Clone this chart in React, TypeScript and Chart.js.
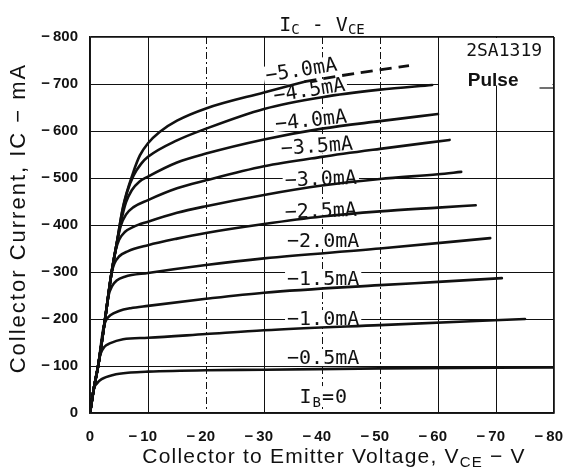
import React, { useEffect, useRef } from "react";
import { Chart, registerables } from "chart.js";

Chart.register(...registerables);

// ---------- axis ticks ----------
const X_TICKS = [0, -10, -20, -30, -40, -50, -60, -70, -80];
const Y_TICKS = [0, -100, -200, -300, -400, -500, -600, -700, -800];
const X_DASHED = [-20, -40, -50];

// ---------- curves: VCE (V) and IC (mA) for each base current ----------
const VCE_IB0 = [0, -80];
const IC_IB0 = [0, 0];

const VCE_05 = [0, -0.4, -0.7, -1.2, -2, -4, -7, -10, -20, -30, -50, -80];
const IC_05 = [0, -30, -52, -63, -72, -81, -86, -88, -91, -92, -95, -97];

const VCE_10 = [0, -0.7, -1.4, -1.8, -2.5, -3.4, -5.7, -10, -20, -30, -50, -75];
const IC_10 = [0, -55, -100, -125, -141, -148, -157, -160, -168, -176, -187, -200];

const VCE_15 = [0, -0.7, -1.4, -2.3, -2.8, -3.5, -5, -7, -10, -20, -30, -50, -60, -71];
const IC_15 = [0, -55, -100, -180, -198, -208, -217, -223, -228, -243, -256, -272, -279, -287];

const VCE_20 = [0, -0.7, -1.4, -2.6, -3.2, -3.8, -4.6, -6, -10, -20, -30, -50, -69];
const IC_20 = [0, -55, -100, -200, -250, -270, -282, -290, -298, -315, -329, -350, -372];

const VCE_25 = [0, -0.7, -1.4, -2.6, -3.7, -4.2, -5, -6.5, -10, -15, -20, -30, -40, -50, -60, -66.5];
const IC_25 = [0, -55, -100, -200, -297, -318, -333, -344, -357, -371, -383, -402, -418, -429, -437, -442];

const VCE_30 = [0, -0.7, -1.4, -2.6, -3.7, -4.4, -5, -6, -7.5, -10, -15, -20, -30, -40, -50, -60, -64];
const IC_30 = [0, -55, -100, -200, -297, -345, -368, -385, -396, -407, -426, -440, -464, -484, -498, -508, -513];

const VCE_35 = [0, -0.7, -1.4, -2.6, -3.7, -4.6, -5.3, -6.2, -7.5, -10, -15, -20, -30, -40, -50, -62];
const IC_35 = [0, -55, -100, -200, -297, -360, -398, -422, -438, -453, -478, -495, -525, -545, -562, -581];

const VCE_40 = [0, -0.7, -1.4, -2.6, -3.7, -4.6, -5.4, -6.2, -7.2, -8.5, -10, -15, -20, -30, -40, -50, -60];
const IC_40 = [0, -55, -100, -200, -297, -360, -410, -448, -474, -492, -503, -533, -552, -582, -605, -621, -636];

const VCE_45 = [0, -0.7, -1.4, -2.6, -3.7, -4.6, -5.5, -6.4, -7.5, -8.8, -10, -15, -20, -30, -40, -50, -59];
const IC_45 = [0, -55, -100, -200, -297, -360, -425, -470, -505, -530, -545, -580, -605, -647, -672, -688, -698];

const VCE_50 = [0, -0.7, -1.4, -2.6, -3.7, -4.6, -5.7, -7.4, -8.6, -10, -12, -15, -20, -30, -37];
const IC_50 = [0, -55, -100, -200, -297, -360, -439, -510, -548, -574, -598, -622, -648, -682, -705];

const VCE_50_EXT = [-37, -46, -55];
const IC_50_EXT = [-705, -723, -739];

const IB_LABELS = ["−0.5mA", "−1.0mA", "−1.5mA", "−2.0mA", "−2.5mA", "−3.0mA", "−3.5mA", "−4.0mA", "−4.5mA", "−5.0mA"];

// ---------- annotation placement (data coordinates) ----------
const LABEL_AT_V = [-40.2, -40.2, -40.2, -40.2, -39.8, -39.8, -39.1, -38.1, -37.8, -36.4];
const LABEL_AT_I = [-117, -200, -285, -366, -430, -498, -568, -623, -687, -730];
const LABEL_ROT = [0, 0, 0, 0, -2, -2, -4, -6, -9, -9];

const SERIES = [
  { v: VCE_IB0, i: IC_IB0, w: 2 },
  { v: VCE_05, i: IC_05, w: 2.6 },
  { v: VCE_10, i: IC_10, w: 2.6 },
  { v: VCE_15, i: IC_15, w: 2.6 },
  { v: VCE_20, i: IC_20, w: 2.6 },
  { v: VCE_25, i: IC_25, w: 2.6 },
  { v: VCE_30, i: IC_30, w: 2.6 },
  { v: VCE_35, i: IC_35, w: 2.6 },
  { v: VCE_40, i: IC_40, w: 2.6 },
  { v: VCE_45, i: IC_45, w: 2.6 },
  { v: VCE_50, i: IC_50, w: 2.6 },
];

const INK = "#111";
const MONO = "'DejaVu Sans Mono', monospace";
const SANS = "'Liberation Sans', Arial, sans-serif";

type Run = { t: string; font: string; dy?: number };

function drawRuns(ctx: CanvasRenderingContext2D, runs: Run[], cx: number, y: number, spacing = 0) {
  (ctx as any).letterSpacing = spacing + "px";
  let total = 0;
  const widths = runs.map((r) => {
    ctx.font = r.font;
    const w = ctx.measureText(r.t).width;
    total += w;
    return w;
  });
  let x = cx - total / 2;
  ctx.textAlign = "left";
  ctx.textBaseline = "alphabetic";
  runs.forEach((r, k) => {
    ctx.font = r.font;
    ctx.fillText(r.t, x, y + (r.dy || 0));
    x += widths[k];
  });
  (ctx as any).letterSpacing = "0px";
}

const annotationPlugin = {
  id: "annotations",
  beforeDraw(chart: any) {
    const { ctx, width, height } = chart;
    ctx.save();
    ctx.fillStyle = "#fff";
    ctx.fillRect(0, 0, width, height);
    ctx.restore();
  },
  beforeDatasetsDraw(chart: any) {
    const { ctx, chartArea: ca, scales } = chart;
    const xs = scales.x;
    const ys = scales.y;
    ctx.save();
    // model box in the upper-right corner
    const bx0 = xs.getPixelForValue(-60) + 1;
    const by1 = ys.getPixelForValue(-700) + 1.5;
    ctx.fillStyle = "#fff";
    ctx.fillRect(bx0, ca.top + 1, ca.right - 1.5 - bx0, by1 - ca.top - 1);
    ctx.strokeStyle = INK;
    ctx.lineWidth = 1.2;
    ctx.beginPath();
    const ly = ys.getPixelForValue(-700) + 4;
    ctx.moveTo(xs.getPixelForValue(-77.5), ly);
    ctx.lineTo(ca.right, ly);
    ctx.stroke();

    ctx.fillStyle = INK;
    drawRuns(ctx, [{ t: "2SA1319", font: `18px ${MONO}` }], xs.getPixelForValue(-71.4), ys.getPixelForValue(-774) + 7);
    drawRuns(ctx, [{ t: "Pulse", font: `bold 19px ${SANS}` }], xs.getPixelForValue(-69.5), ys.getPixelForValue(-710) + 7);

    // curve labels
    IB_LABELS.forEach((t, k) => {
      const px = xs.getPixelForValue(LABEL_AT_V[k]);
      const py = ys.getPixelForValue(LABEL_AT_I[k]);
      ctx.save();
      ctx.translate(px, py);
      ctx.rotate((LABEL_ROT[k] * Math.PI) / 180);
      ctx.font = `20px ${MONO}`;
      const w = ctx.measureText(t).width;
      ctx.fillStyle = "#fff";
      ctx.fillRect(-w / 2 - 2, -9, w + 4, 17);
      ctx.fillStyle = INK;
      ctx.textAlign = "center";
      ctx.textBaseline = "middle";
      ctx.fillText(t, 0, 1);
      ctx.restore();
    });

    // I_B = 0 label
    const zx = xs.getPixelForValue(-40.3);
    const zy = ys.getPixelForValue(-36);
    ctx.font = `20px ${MONO}`;
    const zw = ctx.measureText("I =0").width;
    ctx.fillStyle = "#fff";
    ctx.fillRect(zx - zw / 2 - 2, zy - 10, zw + 4, 20);
    ctx.fillStyle = INK;
    drawRuns(
      ctx,
      [
        { t: "I", font: `20px ${MONO}` },
        { t: "B", font: `14px ${MONO}`, dy: 4 },
        { t: "=0", font: `20px ${MONO}` },
      ],
      zx,
      zy + 7,
      1
    );
    ctx.restore();
  },
  afterDraw(chart: any) {
    const { ctx, chartArea: ca } = chart;
    ctx.save();
    ctx.fillStyle = INK;
    // chart title  I_C - V_CE
    drawRuns(
      ctx,
      [
        { t: "I", font: `20px ${MONO}` },
        { t: "C", font: `14px ${MONO}`, dy: 3 },
        { t: " - V", font: `20px ${MONO}` },
        { t: "CE", font: `14px ${MONO}`, dy: 3 },
      ],
      (ca.left + ca.right) / 2,
      31
    );
    // x axis title
    drawRuns(
      ctx,
      [
        { t: "Collector to Emitter Voltage, V", font: `21px ${SANS}` },
        { t: "CE", font: `15px ${SANS}`, dy: 4 },
        { t: " − V", font: `21px ${SANS}` },
      ],
      334,
      463,
      1.2
    );
    // y axis title
    ctx.save();
    ctx.translate(25, 218);
    ctx.rotate(-Math.PI / 2);
    drawRuns(ctx, [{ t: "Collector Current, IC − mA", font: `22px ${SANS}` }], 0, 0, 2);
    ctx.restore();
    ctx.restore();
  },
};

function fmtX(v: number) {
  return v === 0 ? "0" : "−\u2009" + Math.abs(v) + "\u2002\u2009";
}
function fmtY(v: number) {
  return v === 0 ? "0" : "−\u2009" + Math.abs(v);
}

export default function App() {
  const ref = useRef<HTMLCanvasElement>(null);
  useEffect(() => {
    const datasets: any[] = SERIES.map((s) => ({
      data: s.v.map((v, k) => ({ x: v, y: s.i[k] })),
      borderColor: INK,
      borderWidth: s.w,
      pointRadius: 0,
      cubicInterpolationMode: "monotone",
      borderJoinStyle: "round",
      borderCapStyle: "round",
      fill: false,
    }));
    datasets.push({
      data: VCE_50_EXT.map((v, k) => ({ x: v, y: IC_50_EXT[k] })),
      borderColor: INK,
      borderWidth: 2.8,
      borderDash: [12, 7],
      pointRadius: 0,
      tension: 0.3,
      fill: false,
    });

    const edge = (ctx: any, lo: number, hi: number) => {
      const v = ctx.tick ? ctx.tick.value : null;
      return v === lo || v === hi;
    };

    const chart = new Chart(ref.current as HTMLCanvasElement, {
      type: "line",
      data: { datasets },
      plugins: [annotationPlugin as any],
      options: {
        responsive: false,
        animation: false,
        events: [],
        layout: { padding: { top: 37, right: 14, left: 0, bottom: 0 } },
        plugins: { legend: { display: false }, tooltip: { enabled: false }, title: { display: false } },
        scales: {
          x: {
            type: "linear",
            min: -80,
            max: 0,
            reverse: true,
            afterBuildTicks: (s: any) => {
              s.ticks = X_TICKS.map((v) => ({ value: v }));
            },
            afterFit: (s: any) => {
              s.height = 57;
              s.paddingLeft = 0;
              s.paddingRight = 0;
            },
            grid: {
              color: INK,
              lineWidth: (c: any) => (edge(c, 0, -80) ? 1.8 : 1),
              drawTicks: false,
            },
            border: {
              color: INK,
              width: 1.8,
              dash: (c: any) => (c.tick && X_DASHED.includes(c.tick.value) ? [7, 3, 2, 3] : []),
            },
            ticks: {
              padding: 15,
              color: INK,
              maxRotation: 0,
              autoSkip: false,
              font: { family: "'Liberation Sans', Arial, sans-serif", size: 15, weight: "bold" },
              callback: (v: any) => fmtX(Number(v)),
            },
          },
          y: {
            type: "linear",
            min: -800,
            max: 0,
            reverse: true,
            afterBuildTicks: (s: any) => {
              s.ticks = Y_TICKS.map((v) => ({ value: v }));
            },
            afterFit: (s: any) => {
              s.width = 90;
            },
            grid: {
              color: INK,
              lineWidth: (c: any) => (edge(c, 0, -800) ? 1.8 : 1),
              drawTicks: false,
            },
            border: { color: INK, width: 1.8 },
            ticks: {
              padding: 12,
              color: INK,
              autoSkip: false,
              font: { family: "'Liberation Sans', Arial, sans-serif", size: 15, weight: "bold" },
              callback: (v: any) => fmtY(Number(v)),
            },
          },
        },
      } as any,
    });
    return () => chart.destroy();
  }, []);
  return (
    <div style={{ position: "absolute", left: 0, top: 0, width: 568, height: 470, background: "#fff" }}>
      <canvas ref={ref} width={568} height={470} style={{ display: "block" }} />
    </div>
  );
}
